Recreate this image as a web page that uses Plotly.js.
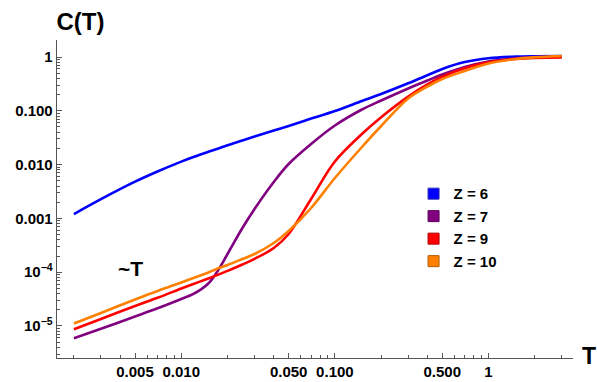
<!DOCTYPE html>
<html>
<head>
<meta charset="utf-8">
<script src="https://cdn.plot.ly/plotly-3.0.1.min.js"></script>
<style>html,body{margin:0;padding:0;background:#fff;}#chart{width:597px;height:382px;}</style>
</head>
<body>
<div id="chart"></div>
<script>
// Temperature grid (x)
const T = [0.002, 0.003, 0.005, 0.007, 0.01, 0.012, 0.015, 0.017, 0.02, 0.025, 0.03, 0.04, 0.05, 0.07, 0.1, 0.15, 0.2, 0.3, 0.4, 0.5, 0.7, 1, 1.5, 2, 3];

// C(T) for each Z
const C_Z6  = [1.202e-3, 2.275e-3, 4.81e-3, 7.44e-3, 0.01137, 0.01384, 0.01729, 0.0195, 0.02294, 0.02818, 0.03328, 0.04303, 0.05237, 0.07161, 0.0992, 0.1521, 0.2052, 0.3245, 0.457, 0.598, 0.804, 0.950, 1.017, 1.035, 1.044];
const C_Z7  = [5.93e-6, 8.87e-6, 1.50e-5, 2.13e-5, 3.18e-5, 3.94e-5, 6.17e-5, 9.87e-5, 2.18e-4, 6.64e-4, 1.50e-3, 4.75e-3, 0.01026, 0.02415, 0.0533, 0.1057, 0.1554, 0.2598, 0.3657, 0.4728, 0.6517, 0.8249, 0.950, 1.0, 1.02];
const C_Z9  = [8.69e-6, 1.35e-5, 2.35e-5, 3.34e-5, 4.96e-5, 6.04e-5, 7.64e-5, 8.79e-5, 1.06e-4, 1.39e-4, 1.77e-4, 2.82e-4, 5.13e-4, 2.30e-3, 0.01142, 0.03706, 0.0760, 0.1837, 0.3082, 0.4305, 0.6192, 0.797, 0.918, 0.962, 0.979];
const C_Z10 = [1.11e-5, 1.75e-5, 3.11e-5, 4.48e-5, 6.44e-5, 7.80e-5, 9.87e-5, 1.15e-4, 1.36e-4, 1.76e-4, 2.18e-4, 3.49e-4, 5.83e-4, 1.56e-3, 5.64e-3, 0.02124, 0.0522, 0.170, 0.2829, 0.390, 0.549, 0.757, 0.918, 0.987, 1.044];

const seriesNames = ['Z = 6', 'Z = 7', 'Z = 9', 'Z = 10'];
const seriesData = [C_Z6, C_Z7, C_Z9, C_Z10];
const seriesColors = ['#0000ff', '#800080', '#ff0000', '#ff8000'];
const seriesEdge = ['#2a2ab0', '#5a005a', '#b00000', '#b35a00'];

// Tick labels
const xTickVals = [0.005, 0.01, 0.05, 0.1, 0.5, 1];
const xTickText = ['0.005', '0.010', '0.050', '0.100', '0.500', '1'];
const xMinorVals = [0.002, 0.003, 0.004, 0.006, 0.007, 0.008, 0.009, 0.02, 0.03, 0.04, 0.06, 0.07, 0.08, 0.09, 0.2, 0.3, 0.4, 0.6, 0.7, 0.8, 0.9, 2, 3];
const yTickVals = [1e-5, 1e-4, 1e-3, 0.01, 0.1, 1];
const yTickText = ['10<sup>−5</sup>', '10<sup>−4</sup>', '0.001', '0.010', '0.100', '1'];
const yMinorVals = [3e-6, 4e-6, 5e-6, 6e-6, 7e-6, 8e-6, 9e-6,
  2e-5, 3e-5, 4e-5, 5e-5, 6e-5, 7e-5, 8e-5, 9e-5,
  2e-4, 3e-4, 4e-4, 5e-4, 6e-4, 7e-4, 8e-4, 9e-4,
  2e-3, 3e-3, 4e-3, 5e-3, 6e-3, 7e-3, 8e-3, 9e-3,
  0.02, 0.03, 0.04, 0.05, 0.06, 0.07, 0.08, 0.09,
  0.2, 0.3, 0.4, 0.5, 0.6, 0.7, 0.8, 0.9, 2];

const traces = [];
seriesData.forEach((d, i) => {
  traces.push({
    x: T, y: d, type: 'scatter', mode: 'lines',
    line: {color: seriesColors[i], width: 2.6, shape: 'spline', smoothing: 1},
    showlegend: false, hoverinfo: 'skip'
  });
});
seriesData.forEach((d, i) => {
  traces.push({
    x: [null], y: [null], type: 'scatter', mode: 'markers', name: seriesNames[i],
    marker: {symbol: 'square', size: 11, color: seriesColors[i], line: {color: seriesEdge[i], width: 1}},
    showlegend: true
  });
});

const axisColor = '#555555';
const fontFam = '"Liberation Sans", Arial, sans-serif';

const layout = {
  width: 597, height: 382,
  margin: {l: 57, r: 24, t: 40, b: 24},
  paper_bgcolor: '#ffffff', plot_bgcolor: '#ffffff',
  font: {family: fontFam, size: 15, color: '#000000', weight: 'bold'},
  title: {text: 'C(T)', xref: 'container', yref: 'container', x: 0.1348, xanchor: 'center', y: 0.9424, yanchor: 'middle',
          font: {family: fontFam, size: 24, color: '#000', weight: 'bold'}},
  showlegend: true,
  legend: {x: 0.691, y: 0.568, xanchor: 'left', yanchor: 'top', bgcolor: 'rgba(0,0,0,0)', tracegroupgap: 0,
           font: {family: fontFam, size: 15, color: '#000', weight: 'bold'}},
  xaxis: {
    type: 'log', range: [-2.809, 0.550],
    showgrid: false, zeroline: false, showline: true, linecolor: axisColor, linewidth: 1.3,
    ticks: 'inside', ticklen: 5, tickwidth: 1, tickcolor: axisColor,
    tickmode: 'array', tickvals: xTickVals, ticktext: xTickText,
    tickfont: {family: fontFam, size: 15, color: '#000', weight: 'bold'},
    minor: {tickmode: 'array', tickvals: xMinorVals, ticks: 'inside', ticklen: 3, tickwidth: 1, tickcolor: axisColor, showgrid: false}
  },
  yaxis: {
    type: 'log', range: [-5.595, 0.316],
    showgrid: false, zeroline: false, showline: true, linecolor: axisColor, linewidth: 1.3,
    ticks: 'inside', ticklen: 5, tickwidth: 1, tickcolor: axisColor,
    tickmode: 'array', tickvals: yTickVals, ticktext: yTickText,
    tickfont: {family: fontFam, size: 15, color: '#000', weight: 'bold'},
    minor: {tickmode: 'array', tickvals: yMinorVals, ticks: 'inside', ticklen: 3, tickwidth: 1, tickcolor: axisColor, showgrid: false}
  },
  annotations: [
    {text: 'T', xref: 'paper', yref: 'paper', x: 1.031, y: 0.006, xanchor: 'center', yanchor: 'middle', showarrow: false,
     font: {family: fontFam, size: 23, color: '#000', weight: 'bold'}},
    {text: '~T', xref: 'paper', yref: 'paper', x: 0.1434, y: 0.28, xanchor: 'center', yanchor: 'middle', showarrow: false,
     font: {family: fontFam, size: 21, color: '#000', weight: 'bold'}}
  ]
};

Plotly.newPlot('chart', traces, layout, {staticPlot: true, displayModeBar: false});
</script>
</body>
</html>
